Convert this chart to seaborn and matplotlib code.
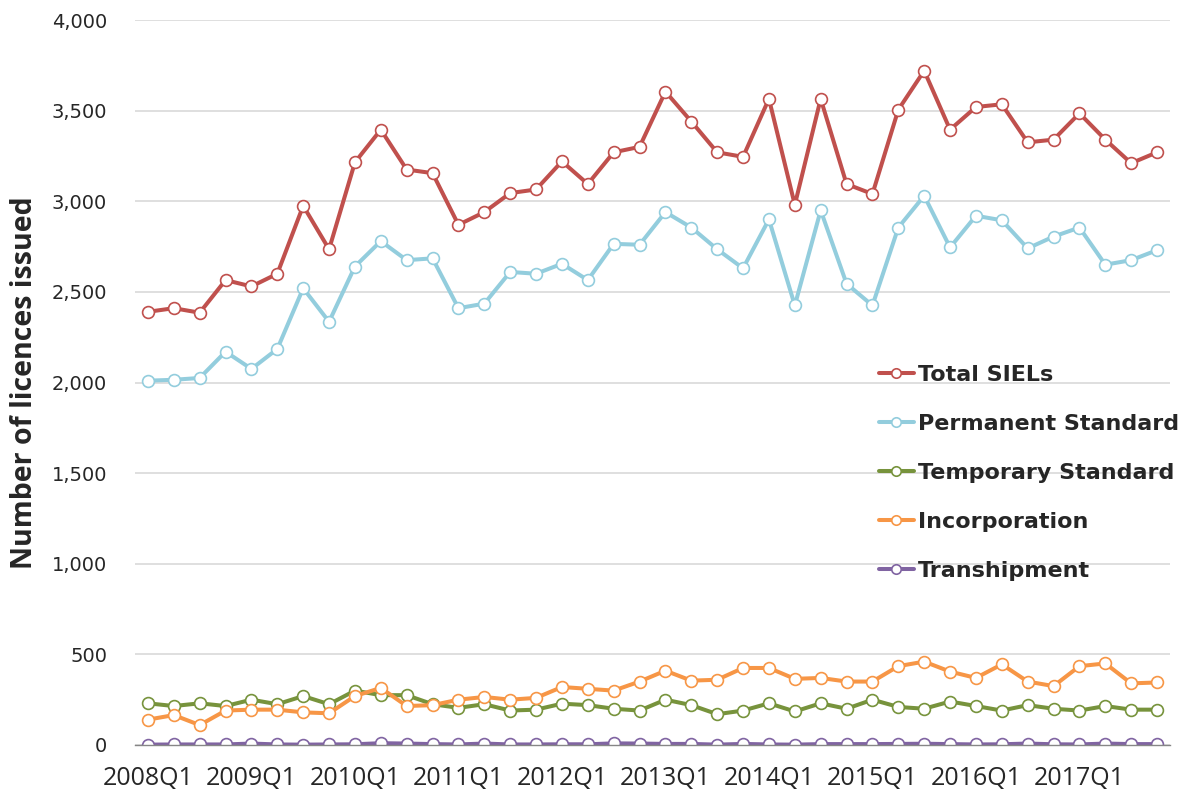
import numpy as np
import pandas as pd
import matplotlib
matplotlib.use("Agg")
import matplotlib.pyplot as plt
import seaborn as sns

quarters = [f"{y}Q{q}" for y in range(2008, 2018) for q in range(1, 5)]

total = [2390, 2410, 2385, 2565, 2530, 2600, 2975, 2735, 3215, 3395, 3175, 3155, 2870,
         2940, 3045, 3065, 3220, 3095, 3270, 3300, 3605, 3440, 3270, 3245, 3565, 2980,
         3565, 3095, 3040, 3505, 3720, 3395, 3520, 3535, 3325, 3340, 3485, 3340, 3210, 3270]
permanent = [2010, 2015, 2025, 2170, 2075, 2185, 2520, 2335, 2640, 2780, 2675, 2685, 2410,
             2435, 2610, 2600, 2655, 2565, 2765, 2760, 2940, 2855, 2735, 2630, 2900, 2425,
             2950, 2545, 2425, 2855, 3030, 2745, 2920, 2895, 2740, 2805, 2855, 2650, 2675, 2730]
temporary = [230, 215, 230, 215, 250, 225, 270, 225, 300, 275, 275, 225, 205, 225, 190, 195,
             228, 220, 200, 190, 250, 220, 170, 190, 230, 185, 230, 200, 250, 210, 200, 240,
             215, 190, 220, 200, 190, 215, 195, 195]
incorporation = [140, 165, 110, 190, 195, 195, 180, 175, 270, 315, 215, 220, 250, 265, 250, 260,
                 320, 310, 300, 350, 410, 355, 360, 425, 425, 365, 370, 350, 350, 435, 460, 405,
                 370, 445, 350, 325, 435, 450, 340, 345]
transhipment = [2, 3, 3, 3, 8, 3, 2, 3, 4, 10, 8, 5, 3, 8, 3, 3, 4, 4, 9, 8, 6, 6, 2, 6, 3, 2,
                5, 5, 5, 6, 7, 5, 3, 4, 8, 4, 3, 8, 5, 5]

series = {
    "Total SIELs": (total, "#C0504D"),
    "Permanent Standard": (permanent, "#93CDDD"),
    "Temporary Standard": (temporary, "#77933C"),
    "Incorporation": (incorporation, "#F79646"),
    "Transhipment": (transhipment, "#8064A2"),
}

sns.set_style("white")
plt.rcParams['font.family'] = ['DejaVu Sans']

fig = plt.figure(figsize=(11.86, 7.92), dpi=100)
ax = fig.add_axes([135/1186, 1 - 745/792, 1035/1186, 725/792])

x = np.arange(len(quarters))
for name, (vals, col) in series.items():
    sns.lineplot(x=x, y=vals, ax=ax, color=col, linewidth=2.9, marker="o",
                 markersize=8.5, markerfacecolor="white", markeredgecolor=col,
                 markeredgewidth=1.2, label=name)

ax.set_ylim(0, 4000)
ax.set_xlim(-0.5, len(quarters) - 0.5)
ax.set_yticks(np.arange(0, 4001, 500))
ax.set_yticklabels([f"{v:,}" for v in range(0, 4001, 500)], fontsize=14)
ax.yaxis.grid(True, color="#D9D9D9", linewidth=1.2)
ax.set_axisbelow(True)

ax.set_xticks(x[::4])
ax.set_xticklabels(quarters[::4], fontsize=18, family="Open Sans")
ax.set_xticks(np.arange(-0.5, len(quarters)), minor=True)
ax.tick_params(axis="x", which="major", length=0, pad=15)
ax.tick_params(axis="x", which="minor", length=5, color="#868686", width=1)
ax.tick_params(axis="y", length=0, pad=20)

for s in ["top", "right", "left"]:
    ax.spines[s].set_visible(False)
ax.spines["bottom"].set_color("#868686")
ax.spines["bottom"].set_linewidth(1)

ax.set_ylabel("Number of licences issued", fontsize=20.5, fontweight="bold", family="Open Sans")
ax.yaxis.set_label_coords(-0.093, 0.5)

# legend entries: smaller markers like the original
leg = ax.legend(loc="upper left", bbox_to_anchor=(868/1186, 1 - 354/792),
                bbox_transform=fig.transFigure, frameon=False, borderpad=0,
                prop={"weight": "bold", "size": 16}, handlelength=1.55,
                handletextpad=0.2, labelspacing=1.3, numpoints=1, markerscale=0.8)

fig.savefig("out.png", dpi=100)
